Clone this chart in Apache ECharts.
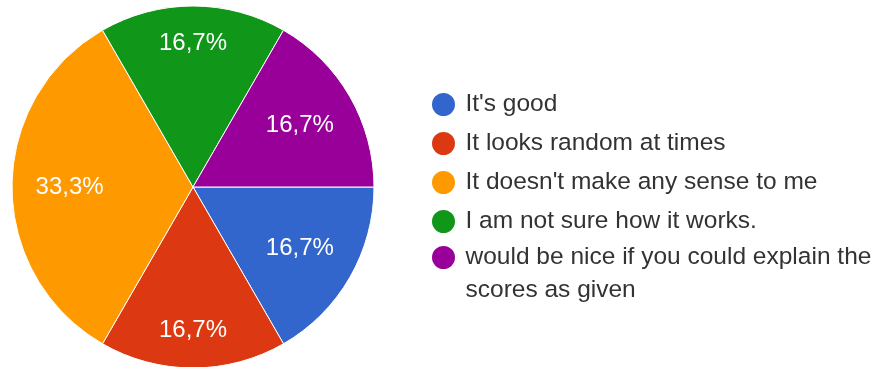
<!DOCTYPE html>
<html>
<head>
<meta charset="utf-8">
<script src="https://cdn.jsdelivr.net/npm/echarts@6/dist/echarts.min.js"></script>
<style>
  html, body { margin: 0; padding: 0; background: #fff; }
  #chart { width: 875px; height: 367px; }
</style>
</head>
<body>
<div id="chart"></div>
<script>
var names = [
    "It's good",
    'It looks random at times',
    "It doesn't make any sense to me",
    'I am not sure how it works.',
    'would be nice if you could explain the scores as given'
];
var counts = [1, 1, 2, 1, 1];
var colors = ['#3366cc', '#dc3912', '#ff9900', '#109618', '#990099'];
// which label ring each slice's percentage sits on (0 = nearer centre, 1 = outer)
var labelRing = [0, 1, 0, 1, 0];

var fontFamily = 'Arial, "Liberation Sans", sans-serif';
var center = [193, 187];
var radius = 181;

function buildData() {
    var out = [];
    for (let i = 0; i < names.length; i++) {
        out.push({ name: names[i], value: counts[i], itemStyle: { color: colors[i] } });
    }
    return out;
}

function pctLabel(p) {
    return p.percent.toFixed(1).replace('.', ',') + '%';
}

function labelSeries(ring, inner) {
    return {
        name: 'labels' + ring,
        type: 'pie',
        center: center,
        radius: [radius * inner, radius],
        startAngle: 0,
        clockwise: true,
        silent: true,
        itemStyle: { color: 'transparent', borderWidth: 0 },
        label: {
            show: true,
            position: 'inside',
            color: '#fff',
            fontFamily: fontFamily,
            fontSize: 24,
            formatter: pctLabel
        },
        labelLine: { show: false },
        emphasis: { disabled: true },
        data: names.map(function (n, i) {
            return { name: n, value: counts[i], label: { show: labelRing[i] === ring } };
        })
    };
}

var legendText = {
    fontFamily: fontFamily,
    fontSize: 24.5,
    color: '#333'
};

var option = {
    backgroundColor: '#fff',
    animation: false,
    legend: [{
        orient: 'vertical',
        left: 425,
        top: 86,
        icon: 'circle',
        itemWidth: 34,
        itemHeight: 25,
        itemGap: 12,
        textStyle: Object.assign({ lineHeight: 22 }, legendText),
        data: names.slice(0, 4)
    }, {
        orient: 'vertical',
        left: 425,
        top: 203,
        icon: 'circle',
        itemWidth: 34,
        itemHeight: 25,
        textStyle: Object.assign({ lineHeight: 33 }, legendText),
        formatter: function (name) {
            // blank first line keeps the circle beside the first text line
            return '\n' + name.replace(' the scores', ' the\nscores');
        },
        data: names.slice(4)
    }],
    series: [{
        name: 'answers',
        type: 'pie',
        center: center,
        radius: [0, radius],
        startAngle: 0,
        clockwise: true,
        label: { show: false },
        labelLine: { show: false },
        itemStyle: { borderColor: '#fff', borderWidth: 1 },
        emphasis: { disabled: true },
        data: buildData()
    },
    labelSeries(0, 0.33),
    labelSeries(1, 0.55)]
};

var myChart = echarts.init(document.getElementById('chart'));
myChart.setOption(option);
</script>
</body>
</html>
